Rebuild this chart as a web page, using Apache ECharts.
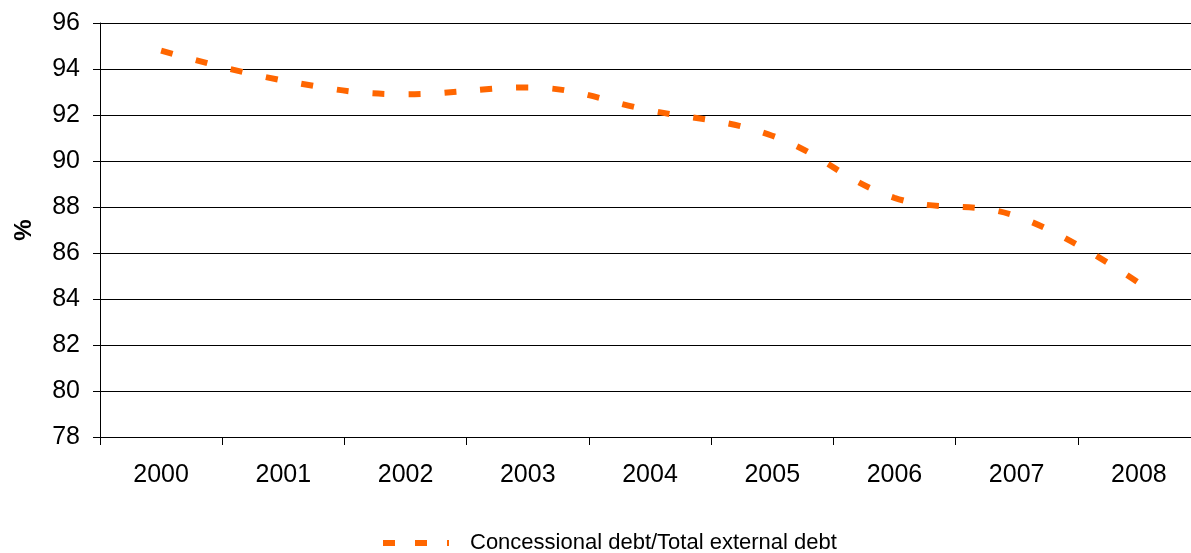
<!DOCTYPE html>
<html>
<head>
<meta charset="utf-8">
<script src="https://cdn.jsdelivr.net/npm/echarts@6/dist/echarts.min.js"></script>
<style>
  html, body { margin: 0; padding: 0; background: #fff; }
  #chart { width: 1191px; height: 553px; }
</style>
</head>
<body>
<div id="chart"></div>
<script>
// Share of concessional debt in total external debt, by year
const years = ['2000', '2001', '2002', '2003', '2004', '2005', '2006', '2007', '2008'];
const concessionalShare = [94.8, 93.5, 92.9, 93.2, 92.2, 91.1, 88.4, 87.6, 84.7];
const seriesName = 'Concessional debt/Total external debt';
const yAxisTitle = '%';

const FONT = 'Liberation Sans, Arial, sans-serif';
const ORANGE = '#FF6600';

const chart = echarts.init(document.getElementById('chart'), null, { renderer: 'canvas' });
chart.setOption({
  animation: false,
  backgroundColor: '#fff',
  // plot area runs a little past the right edge of the canvas
  grid: { left: 100, width: 1100, top: 23, height: 414, containLabel: false, outerBoundsMode: 'none' },
  legend: {
    left: 378,
    top: 527,
    itemWidth: 66,
    itemHeight: 8,
    itemGap: 10,
    textStyle: { fontFamily: FONT, fontSize: 22, color: '#000', padding: [0, 0, 0, 16] },
    data: [{ name: seriesName, icon: 'path://M0,0H12V6H0Z M32,0H44V6H32Z M64,0H66V6H64Z', itemStyle: { color: ORANGE } }]
  },
  xAxis: {
    type: 'category',
    data: years,
    boundaryGap: true,
    axisLine: { lineStyle: { color: '#000', width: 1 } },
    axisTick: { show: true, length: 8, lineStyle: { color: '#000' } },
    axisLabel: { fontFamily: FONT, fontSize: 25, color: '#000', margin: 26 },
    splitLine: { show: false }
  },
  yAxis: {
    type: 'value',
    min: 78,
    max: 96,
    interval: 2,
    name: yAxisTitle,
    nameLocation: 'middle',
    nameGap: 64,
    nameRotate: 90,
    nameTextStyle: { fontFamily: FONT, fontSize: 24, fontWeight: 'bold', color: '#000' },
    axisLine: { show: true, lineStyle: { color: '#000', width: 1 } },
    axisTick: { show: true, length: 7, lineStyle: { color: '#000' } },
    axisLabel: { fontFamily: FONT, fontSize: 25, color: '#000', margin: 20 },
    splitLine: { show: true, lineStyle: { color: '#000', width: 1 } }
  },
  series: [{
    name: seriesName,
    type: 'line',
    data: concessionalShare,
    smooth: 0.4,
    symbol: 'none',
    lineStyle: { color: ORANGE, width: 6, type: [12, 24], cap: 'butt' },
    itemStyle: { color: ORANGE }
  }]
});
</script>
</body>
</html>
